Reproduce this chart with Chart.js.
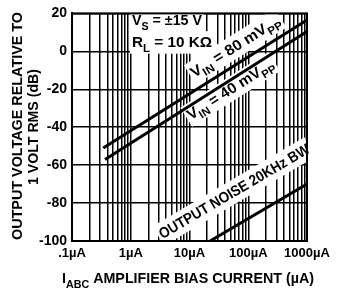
<!DOCTYPE html>
<html><head><meta charset="utf-8">
<script src="https://cdn.jsdelivr.net/npm/chart.js@4/dist/chart.umd.min.js"></script>
<style>html,body{margin:0;padding:0;background:#fff}#wrap{width:341px;height:292px;position:relative}</style>
</head><body><div id="wrap"><canvas id="c" width="341" height="292"></canvas></div>
<script>
// Data (x in µA, y in dB)
const vin80X = [0.34, 1000];
const vin80Y = [-51, 16.5];
const vin40X = [0.365, 1000];
const vin40Y = [-57, 10.5];
const noiseX = [22.4, 1000];
const noiseY = [-100, -70];
const xDecades = [0.1, 1, 10, 100, 1000];
const xTickLabels = ['.1\u00b5A', '1\u00b5A', '10\u00b5A', '100\u00b5A', '1000\u00b5A'];
const yMin = -100, yMax = 20, yStep = 10;

const FONT = '"Liberation Sans", Arial, sans-serif';
const pts = (xs, ys) => xs.map((x, i) => ({x: x, y: ys[i]}));

function partsWidth(ctx, parts, size) {
  let w = 0;
  parts.forEach(p => { ctx.font = 'bold ' + (p.sub ? size * 0.75 : size) + 'px ' + FONT; w += ctx.measureText(p.t).width; });
  return w;
}
// draws text centred at (cx,cy), rotated by ang, squeezed to targetW
function fitText(ctx, cx, cy, ang, parts, size, targetW, bg) {
  ctx.save();
  ctx.translate(cx, cy);
  ctx.rotate(ang);
  const w = partsWidth(ctx, parts, size);
  const sx = targetW / w;
  if (bg) { ctx.fillStyle = '#fff'; ctx.fillRect(-targetW / 2 - 2, -size * 0.72, targetW + 4, size * 1.5); }
  ctx.scale(sx, 1);
  let x = -w / 2;
  ctx.fillStyle = '#000';
  ctx.textBaseline = 'alphabetic';
  parts.forEach(p => {
    ctx.font = 'bold ' + (p.sub ? size * 0.75 : size) + 'px ' + FONT;
    ctx.fillText(p.t, x, size * 0.36 + (p.sub ? size * 0.3 : 0));
    x += ctx.measureText(p.t).width;
  });
  ctx.restore();
}

const deco = {
  id: 'deco',
  beforeDatasetsDraw(chart) {
    const ctx = chart.ctx;
    const xs = chart.scales.x, ys = chart.scales.y;
    ctx.save();
    fitText(ctx, 167, 20, 0, [{t: 'V'}, {t: 'S', sub: true}, {t: ' = \u00b115 V'}], 15, 70, true);
    fitText(ctx, 172, 42, 0, [{t: 'R'}, {t: 'L', sub: true}, {t: ' = 10 K\u03a9'}], 15, 80, true);
    const ang = (X, Y) => Math.atan2(ys.getPixelForValue(Y[1]) - ys.getPixelForValue(Y[0]), xs.getPixelForValue(X[1]) - xs.getPixelForValue(X[0]));
    fitText(ctx, 235, 46, ang(vin80X, vin80Y), [{t: 'V'}, {t: 'IN', sub: true}, {t: ' = 80 mV'}, {t: 'PP', sub: true}], 15, 103, true);
    fitText(ctx, 230, 89, ang(vin40X, vin40Y), [{t: 'V'}, {t: 'IN', sub: true}, {t: ' = 40 mV'}, {t: 'PP', sub: true}], 15, 100, true);
    fitText(ctx, 234, 191, ang(noiseX, noiseY), [{t: 'OUTPUT NOISE 20KHz BW'}], 15, 172, true);
    ctx.restore();
  },
  afterDatasetsDraw(chart) {
    const ctx = chart.ctx, a = chart.chartArea;
    ctx.save();
    ctx.strokeStyle = '#000';
    ctx.lineWidth = 2;
    ctx.strokeRect(a.left, a.top, a.right - a.left, a.bottom - a.top);
    fitText(ctx, 17, 126, -Math.PI / 2, [{t: 'OUTPUT VOLTAGE RELATIVE TO'}], 14, 228, false);
    fitText(ctx, 33, 127, -Math.PI / 2, [{t: '1 VOLT RMS (dB)'}], 14, 116, false);
    fitText(ctx, 188, 278, 0, [{t: 'I'}, {t: 'ABC', sub: true}, {t: ' AMPLIFIER BIAS CURRENT (\u00b5A)'}], 15, 252, false);
    ctx.restore();
  }
};

new Chart(document.getElementById('c'), {
  type: 'line',
  data: {
    datasets: [
      {data: pts(vin80X, vin80Y)},
      {data: pts(vin40X, vin40Y)},
      {data: pts(noiseX, noiseY)}
    ].map(d => Object.assign(d, {borderColor: '#000', borderWidth: 3, pointRadius: 0, fill: false, tension: 0}))
  },
  options: {
    responsive: false,
    animation: false,
    events: [],
    layout: {padding: {top: 8, right: 34, left: 0, bottom: 0}},
    plugins: {legend: {display: false}, tooltip: {enabled: false}},
    scales: {
      x: {
        type: 'logarithmic', min: xDecades[0], max: xDecades[xDecades.length - 1],
        afterBuildTicks(s) {
          const t = [];
          for (let d = 0; d < xDecades.length - 1; d++) for (let k = 1; k <= 9; k++) t.push({value: xDecades[d] * k});
          t.push({value: xDecades[xDecades.length - 1]});
          s.ticks = t;
        },
        afterFit(s) { s.height = 51; },
        grid: {color: '#000', lineWidth: 1.5, drawTicks: false},
        border: {color: '#000', width: 2},
        ticks: {
          autoSkip: false, maxRotation: 0, padding: 5, color: '#000',
          font: {family: FONT, size: 13, weight: 'bold'},
          callback(v) { const i = xDecades.findIndex(d => Math.abs(d - v) < 1e-9); return i >= 0 ? xTickLabels[i] : ''; }
        }
      },
      y: {
        min: yMin, max: yMax,
        afterFit(s) { s.width = 72; },
        grid: {color: '#000', lineWidth: 1.5, drawTicks: false},
        border: {color: '#000', width: 2},
        ticks: {
          stepSize: yStep, padding: 5, color: '#000',
          font: {family: FONT, size: 14, weight: 'bold'},
          callback(v) { return v % 20 === 0 ? String(v) : ''; }
        }
      }
    }
  },
  plugins: [deco]
});
</script></body></html>
